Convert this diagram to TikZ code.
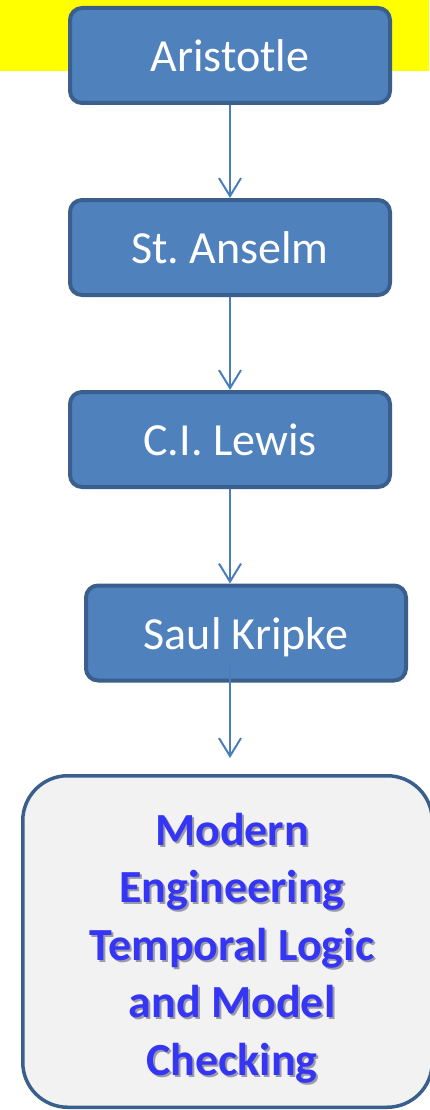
\documentclass[tikz,border=0pt]{standalone}
\usepackage{fontspec}
\setmainfont{Carlito}
\usetikzlibrary{arrows.meta}

\definecolor{bandyellow}{HTML}{FFFF00}
\definecolor{boxfill}{HTML}{4F81BD}
\definecolor{boxedge}{HTML}{3A5F8C}
\definecolor{linkblue}{HTML}{4A7EBB}
\definecolor{goalfill}{HTML}{F2F2F2}
\definecolor{goaltext}{HTML}{3535F5}
\definecolor{textshade}{HTML}{9A9AA8}

% text with a soft drop shadow behind it
\newcommand{\shadedword}[1]{%
  \makebox[0pt][l]{\kern2pt\raisebox{-2.2pt}{\textcolor{textshade}{#1}}}%
  \textcolor{goaltext}{#1}}

\tikzset{
  person/.style={draw=boxedge, line width=4pt, fill=boxfill,
    rounded corners=12pt, minimum width=320pt, minimum height=95pt,
    text=white, font=\fontsize{46}{55}\selectfont,
    text height=32pt, text depth=0pt, inner sep=0pt},
  goal/.style={draw=boxedge, line width=3.5pt, fill=goalfill,
    rounded corners=45pt, minimum width=409.5pt, minimum height=331.5pt,
    inner sep=0pt},
  goallabel/.style={align=center, inner sep=0pt,
    font=\bfseries\fontsize{46}{57.5}\selectfont},
  link/.style={draw=linkblue, line width=2pt,
    -{Straight Barb[length=18pt,width=22pt,line width=2pt]}}
}

\begin{document}
\begin{tikzpicture}[x=1pt, y=-1pt]
  \useasboundingbox (0,0) rectangle (429,1110);

  % yellow title band behind the first box
  \fill[bandyellow] (0,0) rectangle (429,71);

  \node[person] (aristotle) at (230,55.5)  {Aristotle};
  \node[person] (anselm)    at (230,247.5) {St.\ Anselm};
  \node[person] (lewis)     at (230,439.5) {C.I. Lewis};
  \node[person] (kripke)    at (246,633)   {Saul Kripke};

  \node[goal] (modern) at (227.5,941.5) {};
  % base anchor sits on the baseline of the last line
  \node[goallabel, anchor=base] (moderntext) at (232,1075)
    {\shadedword{Modern}\\ \shadedword{Engineering}\\
     \shadedword{Temporal Logic}\\ \shadedword{and Model}\\
     \shadedword{Checking}};

  \coordinate (kstart) at (230,665);
  \coordinate (kend)   at (230,758);

  \draw[link] (aristotle.south) -- (anselm.north);
  \draw[link] (anselm.south) -- (lewis.north);
  \draw[link] (lewis.south) -- (lewis.south |- kripke.north);
  \draw[link] (kstart) -- (kend);
\end{tikzpicture}
\end{document}
